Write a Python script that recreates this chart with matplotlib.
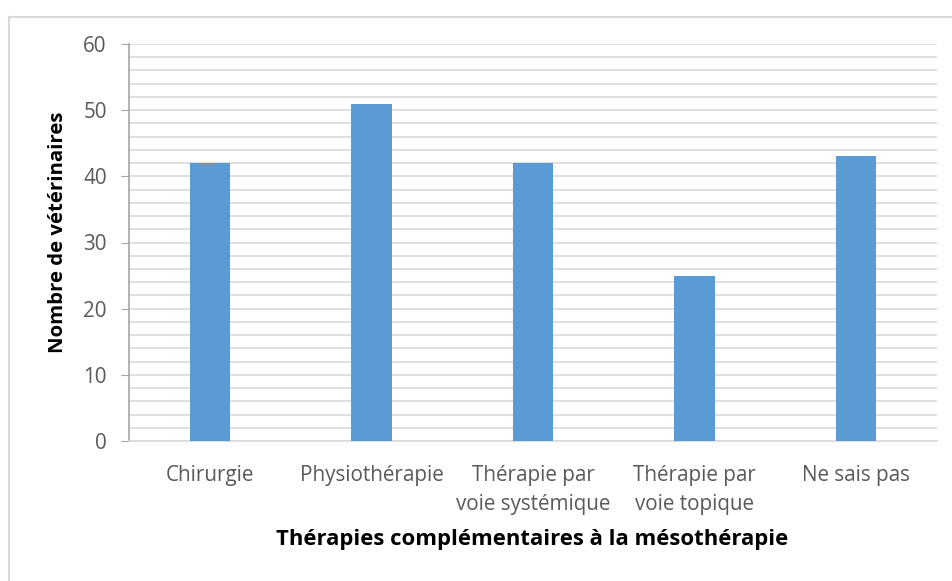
import matplotlib
matplotlib.use("Agg")
import matplotlib.pyplot as plt
from matplotlib.lines import Line2D
import numpy as np

categories = ["Chirurgie", "Physiothérapie", "Thérapie par\nvoie systémique",
              "Thérapie par\nvoie topique", "Ne sais pas"]
values = [42, 51, 42, 25, 43]
yticks = [0, 10, 20, 30, 40, 50, 60]

plt.rcParams['font.family'] = ['Open Sans', 'DejaVu Sans']

W, H = 952, 581
fig = plt.figure(figsize=(W/100, H/100), dpi=100)
ax = fig.add_axes([129/W, 1-441/H, (937-129)/W, (441-44)/H])

x = np.arange(len(categories))
ax.set_axisbelow(True)
ax.bar(x, values, width=0.25, color='#5B9BD5', zorder=3)

ax.set_xlim(-0.5, len(categories)-0.5)
ax.set_ylim(0, 60)
ax.set_yticks(yticks)
ax.set_yticks(np.arange(0, 61, 2), minor=True)
ax.grid(axis='y', which='both', color='#D9D9D9', linewidth=1.2)
ax.set_xticks(x)
ax.set_xticklabels(categories, fontsize=14.9, color='#595959', linespacing=1.5)
ax.tick_params(axis='x', length=0, pad=17)
ax.tick_params(axis='y', which='major', length=6, color='#A6A6A6', labelsize=14.9,
               labelcolor='#595959', pad=10)
ax.tick_params(axis='y', which='minor', length=0)

for s in ['top', 'right']:
    ax.spines[s].set_visible(False)
ax.spines['left'].set_color('#A6A6A6')
ax.spines['left'].set_linewidth(1.2)
ax.spines['bottom'].set_color('#D9D9D9')
ax.spines['bottom'].set_linewidth(1.2)

fig.text(58/W, 1-232/H, "Nombre de vétérinaires", rotation=90,
         fontsize=14.7, fontweight='bold', color='black', ha='center', va='center')

fig.text(532/W, 1-539/H, "Thérapies complémentaires à la mésothérapie",
         fontsize=15.9, fontweight='bold', color='black', ha='center', va='center')

# chart area border (left and top)
fig.add_artist(Line2D([8.5/W, 8.5/W], [0, 1-16.5/H], transform=fig.transFigure,
                      color='#D9D9D9', linewidth=1.5))
fig.add_artist(Line2D([8.5/W, 1], [1-16.5/H, 1-16.5/H], transform=fig.transFigure,
                      color='#D9D9D9', linewidth=1.5))

fig.savefig("out.png", dpi=100, facecolor='white')
